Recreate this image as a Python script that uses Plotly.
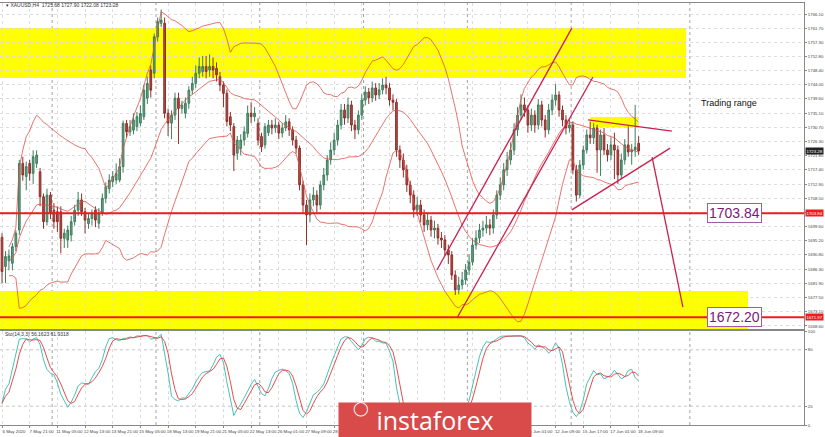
import plotly.graph_objects as go
import pandas as pd

# ---------------- data ----------------
opens = [
    1696.3, 1687.2, 1689.0, 1688.2, 1693.4, 1698.6, 1719.4, 1715.3, 1719.4, 1716.3,
    1719.4, 1716.8, 1709.0, 1701.2, 1709.5, 1704.8, 1704.3, 1704.3, 1696.0, 1695.5,
    1697.0, 1701.2, 1704.8, 1708.0, 1704.3, 1700.6, 1702.2, 1704.8, 1700.7, 1703.8,
    1708.5, 1711.5, 1713.7, 1714.2, 1714.2, 1718.4, 1731.9, 1729.3, 1729.8, 1730.9,
    1732.0, 1734.0, 1739.8, 1748.6, 1747.6, 1759.0, 1763.2, 1763.2, 1735.1, 1732.0,
    1734.5, 1739.8, 1736.6, 1735.1, 1738.2, 1742.3, 1744.4, 1747.6, 1748.1, 1749.7,
    1748.6, 1749.7, 1749.1, 1746.5, 1743.9, 1741.3, 1734.0, 1730.9, 1722.6, 1724.1,
    1726.7, 1728.8, 1735.1, 1734.0, 1731.9, 1727.8, 1725.2, 1729.0,
    1731.4, 1730.5, 1731.4, 1728.9, 1730.5, 1732.4, 1729.9, 1726.7, 1724.2, 1712.7,
    1706.4, 1703.3, 1708.0, 1709.5, 1706.4, 1712.7, 1715.8, 1720.5, 1723.6, 1726.7,
    1731.4, 1736.1, 1733.6, 1737.7, 1731.4, 1729.9, 1734.5, 1739.2, 1741.7, 1739.9,
    1743.0, 1740.8, 1742.4, 1743.9, 1743.0, 1739.2, 1738.5, 1723.6, 1720.5, 1717.4,
    1712.7, 1709.5, 1704.9, 1706.4, 1703.3, 1700.2, 1701.7, 1698.6, 1699.2, 1696.1,
    1695.5, 1692.4, 1690.8, 1684.5, 1679.9, 1681.4, 1683.0, 1686.1, 1688.6, 1693.9,
    1696.1, 1698.6, 1699.2, 1700.2, 1699.2, 1703.3, 1709.5, 1712.7, 1717.4, 1720.5,
    1723.6, 1729.9, 1734.5, 1737.7, 1736.1, 1731.4, 1734.5, 1731.4, 1737.7, 1733.0,
    1729.9, 1736.1, 1739.2, 1740.8, 1736.1, 1733.0, 1730.5, 1731.4, 1717.4, 1709.5,
    1718.9, 1723.6, 1728.3, 1727.4, 1730.5, 1723.6, 1728.3, 1723.6, 1722.1, 1725.2,
    1723.6, 1715.8, 1720.5, 1725.2, 1723.0, 1723.6, 1725.7,
]
highs = [
    1697.6, 1692.0, 1692.5, 1694.5, 1698.5, 1720.5, 1721.5, 1720.0, 1720.5, 1723.5,
    1723.5, 1718.0, 1710.0, 1711.5, 1710.5, 1707.0, 1706.0, 1706.0, 1699.0, 1700.0,
    1703.0, 1706.5, 1710.5, 1710.0, 1705.5, 1704.0, 1705.0, 1706.0, 1705.5, 1710.0,
    1713.5, 1716.0, 1717.0, 1719.4, 1721.0, 1732.8, 1733.0, 1733.0, 1735.0, 1735.5,
    1737.5, 1744.0, 1746.5, 1750.0, 1760.0, 1765.0, 1767.5, 1765.0, 1736.5, 1736.0,
    1741.5, 1741.5, 1739.0, 1740.0, 1743.5, 1746.5, 1750.0, 1752.5, 1753.0, 1753.0,
    1753.5, 1752.5, 1751.0, 1748.0, 1745.0, 1742.5, 1735.5, 1732.0, 1728.0, 1728.5,
    1731.0, 1737.5, 1738.5, 1737.0, 1733.5, 1729.0, 1732.0, 1733.0,
    1733.0, 1733.5, 1732.5, 1732.0, 1734.5, 1733.5, 1731.0, 1728.0, 1725.0, 1714.0,
    1708.0, 1710.0, 1712.0, 1711.0, 1714.0, 1718.0, 1722.0, 1726.0, 1729.0, 1733.0,
    1738.0, 1738.0, 1740.0, 1739.0, 1733.0, 1736.0, 1741.0, 1743.5, 1743.0, 1745.0,
    1744.5, 1744.5, 1746.0, 1746.5, 1744.5, 1741.0, 1739.5, 1725.0, 1722.5, 1719.0,
    1714.0, 1711.0, 1709.0, 1708.0, 1705.0, 1704.0, 1703.0, 1701.5, 1700.5, 1698.0,
    1697.0, 1694.0, 1692.0, 1686.0, 1684.0, 1685.5, 1688.0, 1691.0, 1696.0, 1698.5,
    1700.5, 1701.5, 1703.0, 1702.0, 1705.0, 1711.0, 1715.0, 1719.5, 1723.0, 1726.0,
    1732.0, 1737.0, 1741.0, 1740.0, 1737.5, 1736.5, 1736.0, 1739.5, 1739.0, 1734.5,
    1738.0, 1741.0, 1744.2, 1742.0, 1737.5, 1734.5, 1733.5, 1732.5, 1719.0, 1720.5,
    1725.0, 1730.0, 1732.5, 1732.0, 1731.5, 1730.0, 1730.5, 1725.5, 1727.5, 1729.0,
    1725.0, 1722.5, 1727.0, 1731.0, 1725.5, 1737.7, 1727.9,
]
lows = [
    1682.0, 1682.0, 1686.0, 1686.0, 1692.0, 1697.0, 1714.0, 1711.0, 1714.0, 1713.0,
    1718.0, 1706.0, 1699.0, 1700.0, 1702.0, 1699.0, 1698.0, 1691.3, 1693.0, 1693.0,
    1695.0, 1700.0, 1703.0, 1703.0, 1697.5, 1699.0, 1700.0, 1699.5, 1699.0, 1703.0,
    1707.0, 1710.0, 1712.0, 1713.0, 1713.5, 1716.5, 1727.5, 1728.0, 1728.5, 1729.5,
    1731.0, 1733.0, 1738.0, 1740.0, 1746.0, 1757.5, 1762.0, 1733.5, 1728.0, 1727.0,
    1733.0, 1725.5, 1735.0, 1733.5, 1736.5, 1741.0, 1743.0, 1746.0, 1746.5, 1746.0,
    1746.5, 1746.0, 1745.0, 1742.0, 1737.0, 1731.0, 1729.5, 1717.0, 1720.5, 1722.0,
    1725.0, 1727.5, 1732.0, 1732.5, 1725.0, 1723.0, 1724.0, 1728.0,
    1728.5, 1729.0, 1727.0, 1727.5, 1729.5, 1728.0, 1725.0, 1722.5, 1711.0, 1704.0,
    1693.9, 1701.0, 1706.0, 1704.0, 1705.0, 1711.0, 1714.0, 1719.0, 1722.0, 1725.0,
    1730.0, 1731.5, 1732.0, 1729.5, 1727.0, 1728.5, 1733.0, 1737.5, 1738.0, 1738.5,
    1739.0, 1739.5, 1741.0, 1741.0, 1737.5, 1736.0, 1721.5, 1718.0, 1715.0, 1710.5,
    1707.0, 1702.5, 1703.0, 1701.0, 1698.0, 1698.5, 1696.5, 1696.0, 1694.0, 1693.0,
    1690.5, 1688.0, 1683.0, 1678.3, 1678.5, 1680.0, 1681.5, 1684.5, 1687.5, 1692.5,
    1694.5, 1696.5, 1697.5, 1697.0, 1697.5, 1702.0, 1708.0, 1711.0, 1715.5, 1719.0,
    1722.0, 1728.0, 1733.0, 1734.0, 1729.0, 1729.5, 1729.0, 1730.0, 1731.0, 1727.5,
    1728.5, 1734.5, 1737.5, 1734.0, 1731.0, 1728.5, 1729.0, 1716.0, 1707.5, 1708.5,
    1717.5, 1722.5, 1725.5, 1725.5, 1716.5, 1715.5, 1722.0, 1720.0, 1720.5, 1714.5,
    1713.0, 1714.5, 1719.0, 1721.5, 1719.0, 1721.5, 1722.1,
]
closes = [
    1685.6, 1690.3, 1690.5, 1693.4, 1697.6, 1719.4, 1715.8, 1718.4, 1716.3, 1721.5,
    1722.0, 1709.0, 1701.2, 1709.5, 1703.8, 1701.2, 1701.2, 1696.0, 1697.6, 1698.6,
    1701.2, 1704.8, 1708.0, 1704.3, 1701.7, 1702.2, 1703.8, 1701.7, 1703.8, 1708.5,
    1712.1, 1714.2, 1715.3, 1716.3, 1718.4, 1731.9, 1729.3, 1730.9, 1733.0, 1734.0,
    1735.0, 1742.3, 1744.4, 1742.3, 1759.0, 1763.7, 1764.2, 1735.1, 1732.0, 1734.5,
    1739.8, 1736.6, 1737.6, 1738.2, 1742.3, 1744.4, 1747.6, 1749.7, 1749.7, 1748.1,
    1749.7, 1748.6, 1747.1, 1743.9, 1741.3, 1732.5, 1731.4, 1722.0, 1726.7, 1726.7,
    1729.3, 1735.1, 1734.0, 1735.1, 1726.7, 1724.6, 1730.9, 1731.4,
    1730.5, 1731.4, 1728.9, 1730.5, 1732.4, 1729.9, 1726.7, 1724.2, 1712.7, 1706.4,
    1703.3, 1708.0, 1709.5, 1706.4, 1712.7, 1715.8, 1720.5, 1723.6, 1726.7, 1731.4,
    1736.1, 1733.6, 1737.7, 1731.4, 1729.9, 1734.5, 1739.2, 1741.7, 1739.9, 1743.0,
    1740.8, 1742.4, 1743.9, 1743.0, 1739.2, 1738.5, 1723.6, 1720.5, 1717.4, 1712.7,
    1709.5, 1704.9, 1706.4, 1703.3, 1700.2, 1701.7, 1698.6, 1699.2, 1696.1, 1695.5,
    1692.4, 1690.8, 1684.5, 1679.9, 1681.4, 1683.0, 1686.1, 1688.6, 1693.9, 1696.1,
    1698.6, 1699.2, 1700.2, 1699.2, 1703.3, 1709.5, 1712.7, 1717.4, 1720.5, 1723.6,
    1729.9, 1734.5, 1737.7, 1736.1, 1731.4, 1734.5, 1731.4, 1737.7, 1733.0, 1729.9,
    1736.1, 1739.2, 1740.8, 1736.1, 1733.0, 1730.5, 1731.4, 1717.4, 1709.5, 1718.9,
    1723.6, 1728.3, 1727.4, 1730.5, 1723.6, 1728.3, 1723.6, 1722.1, 1725.2, 1723.6,
    1715.8, 1720.5, 1725.2, 1723.0, 1723.6, 1724.5, 1723.3,
]

x_tick_labels = [
    "6 May 2020", "7 May 21:00", "11 May 05:00", "12 May 13:00", "13 May 21:00",
    "15 May 05:00", "18 May 13:00", "19 May 21:00", "21 May 05:00", "22 May 13:00",
    "26 May 01:00", "27 May 09:00", "28 May 17:00", "1 Jun 01:00", "2 Jun 09:00",
    "3 Jun 17:00", "5 Jun 01:00", "8 Jun 09:00", "9 Jun 17:00", "11 Jun 01:00",
    "12 Jun 09:00", "15 Jun 17:00", "17 Jun 01:00", "18 Jun 09:00",
]
price_ticks = [1766.10, 1761.70, 1757.30, 1752.80, 1748.40, 1744.00, 1739.60, 1735.10,
               1730.70, 1726.30, 1721.80, 1717.40, 1712.90, 1708.50, 1704.10, 1699.60,
               1695.20, 1690.80, 1686.30, 1681.90, 1677.50, 1673.10, 1668.60]
stoch_ticks = [0, 20, 80, 100]

support_levels = [1703.84, 1671.3]
level_labels = ["1703.84", "1672.20"]
zone_upper = [1746.1, 1761.7]
zone_lower = [1667.0, 1679.5]
range_box = [170, 183.8, 1730.8, 1733.9]
# trend lines: (bar0, price0, bar1, price1)
trend_lines = [
    (125.7, 1686.1, 164.7, 1761.7),
    (131.5, 1671.1, 170.8, 1746.4),
    (169.4, 1733.0, 193.6, 1729.5),
    (164.7, 1704.9, 193.1, 1724.2),
    (187.9, 1721.4, 196.8, 1674.5),
]
separators = [14.5, 44.5, 74.5, 104.5, 134.5, 164.5, 198.8]

# ---------------- indicators ----------------
idx = list(range(len(closes)))
c = pd.Series(closes)
h = pd.Series(highs)
l = pd.Series(lows)
mid = c.rolling(20, min_periods=3).mean()
sd = c.rolling(20, min_periods=3).std(ddof=0)
bb_up = mid + 2 * sd
bb_lo = mid - 2 * sd
ll = l.rolling(14, min_periods=1).min()
hh = h.rolling(14, min_periods=1).max()
num = (c - ll).rolling(3, min_periods=1).sum()
den = (hh - ll).rolling(3, min_periods=1).sum()
k = 100 * num / den
d = k.rolling(3, min_periods=1).mean()

# ---------------- figure ----------------
W, H = 825, 437
XR = [-0.58, 231.8]
Y_MAIN = [1667.66, 1769.54]
dom_x = [0, 804 / W]
dom_main = [1 - 329 / H, 1 - 3 / H]
dom_sto = [1 - 425 / H, 1 - 331 / H]

fig = go.Figure()
fig.add_trace(go.Candlestick(
    x=idx, open=opens, high=highs, low=lows, close=closes,
    increasing=dict(line=dict(color="#3f7d5e", width=1), fillcolor="#64a283"),
    decreasing=dict(line=dict(color="#8e2f2a", width=1), fillcolor="#b54a44"),
    whiskerwidth=0, showlegend=False, xaxis="x", yaxis="y",
))
for s in (bb_up, mid, bb_lo):
    fig.add_trace(go.Scatter(x=idx, y=s, mode="lines", line=dict(color="#e0504a", width=0.8),
                             showlegend=False, xaxis="x", yaxis="y", hoverinfo="skip"))
fig.add_trace(go.Scatter(x=idx, y=k, mode="lines", line=dict(color="#36b8b0", width=0.9),
                         showlegend=False, xaxis="x2", yaxis="y2"))
fig.add_trace(go.Scatter(x=idx, y=d, mode="lines", line=dict(color="#e03a3a", width=0.9),
                         showlegend=False, xaxis="x2", yaxis="y2"))

shapes = []
shapes.append(dict(type="rect", xref="x", yref="y", x0=XR[0], x1=197.7,
                   y0=zone_upper[0], y1=zone_upper[1], fillcolor="#ffff00",
                   line=dict(width=0), layer="below"))
shapes.append(dict(type="rect", xref="x", yref="y", x0=XR[0], x1=215.6,
                   y0=zone_lower[0], y1=zone_lower[1], fillcolor="#ffff00",
                   line=dict(width=0), layer="below"))
shapes.append(dict(type="rect", xref="x", yref="y", x0=range_box[0], x1=range_box[1],
                   y0=range_box[2], y1=range_box[3], fillcolor="#ffff00",
                   line=dict(width=0), layer="below"))
for s in separators:
    shapes.append(dict(type="line", xref="x", yref="paper", x0=s, x1=s,
                       y0=dom_sto[0], y1=dom_main[1],
                       line=dict(color="#8a8a8a", width=0.8, dash="dot"), layer="below"))
for lv in support_levels:
    shapes.append(dict(type="line", xref="x domain", yref="y", x0=0, x1=1, y0=lv, y1=lv,
                       line=dict(color="#ee1c1c", width=2)))
for (a0, p0, a1, p1) in trend_lines:
    shapes.append(dict(type="line", xref="x", yref="y", x0=a0, y0=p0, x1=a1, y1=p1,
                       line=dict(color="#c8204f", width=1.3)))
for lv in (20, 80):
    shapes.append(dict(type="line", xref="x2 domain", yref="y2", x0=0, x1=1, y0=lv, y1=lv,
                       line=dict(color="#b8b8b8", width=0.8, dash="dot"), layer="below"))

annotations = []
annotations.append(dict(xref="paper", yref="paper", x=4 / W, y=1 - 5 / H, xanchor="left",
                        yanchor="middle", showarrow=False,
                        text="▾ XAUUSD,H4  1725.68 1727.90 1722.08 1723.28",
                        font=dict(size=5, color="#333")))
annotations.append(dict(xref="paper", yref="paper", x=3 / W, y=1 - 334 / H, xanchor="left",
                        yanchor="middle", showarrow=False,
                        text="Sto(14,3,3) 56.1623 61.9318",
                        font=dict(size=5, color="#333")))
annotations.append(dict(xref="x", yref="y", x=210, y=1738.3, showarrow=False,
                        text="Trading range", font=dict(size=9, color="#111",
                                                        family="Liberation Sans, Arial")))
for lv, txt in zip((1703.84, 1671.3), level_labels):
    annotations.append(dict(xref="x", yref="y", x=211.8, y=lv, showarrow=False, text=txt,
                            font=dict(size=14, color="#7a1877", family="Liberation Sans, Arial"),
                            bgcolor="white", bordercolor="#a25aa8", borderwidth=1, borderpad=1))
for lv, txt, col in ((1703.84, "1703.84", "#ee1c1c"), (1671.3, "1671.97", "#ee1c1c"),
                     (1723.28, "1723.28", "#222222")):
    annotations.append(dict(xref="paper", yref="y", x=805 / W, y=lv, xanchor="left",
                            yanchor="middle", showarrow=False, text=txt,
                            font=dict(size=4.3, color="white"), bgcolor=col, borderpad=0.5))
# watermark banner
annotations.append(dict(xref="paper", yref="paper", x=338 / W, y=1 - 402 / H, xanchor="left",
                        yanchor="top", showarrow=False, text="instaforex", width=192, height=38,
                        align="center", valign="top", bgcolor="#d94a4a", borderpad=0,
                        font=dict(size=25, color="white", family="Open Sans, Lato, sans-serif")))
annotations.append(dict(xref="paper", yref="paper", x=361 / W, y=1 - 419 / H, showarrow=False,
                        text="◯", font=dict(size=14, color="white")))

price_text = ["" if abs(v - 1704.10) < 0.01 else f"{v:.2f}" for v in price_ticks]

fig.update_layout(
    width=W, height=H, margin=dict(l=0, r=0, t=0, b=0, autoexpand=False),
    paper_bgcolor="white", plot_bgcolor="white",
    shapes=shapes, annotations=annotations, showlegend=False,
    font=dict(family="Liberation Sans, Arial, sans-serif", size=4.3, color="#444"),
    xaxis=dict(domain=dom_x, anchor="y", range=XR, showticklabels=False,
               tickvals=list(range(0, 185, 8)), showgrid=True, gridcolor="#dddddd",
               griddash="dot", gridwidth=0.6, zeroline=False, rangeslider=dict(visible=False),
               showline=True, linecolor="#888", linewidth=1, mirror=True, ticks=""),
    yaxis=dict(domain=dom_main, anchor="x", side="right", range=Y_MAIN, tickvals=price_ticks,
               ticktext=price_text, ticks="outside", ticklen=2, ticklabelstandoff=0,
               tickcolor="#888", showgrid=True, gridcolor="#dddddd", griddash="dot",
               gridwidth=0.6, zeroline=False, showline=True, linecolor="#888", linewidth=1,
               mirror=True, tickfont=dict(size=4.3, color="#444")),
    xaxis2=dict(domain=dom_x, anchor="y2", range=XR, tickvals=list(range(0, 185, 8)),
                ticktext=x_tick_labels, tickangle=0, ticklabelshift=12, ticks="outside",
                ticklen=2, tickcolor="#888", showgrid=True, gridcolor="#dddddd", griddash="dot",
                gridwidth=0.6, zeroline=False, showline=True, linecolor="#888", linewidth=1,
                mirror=True, tickfont=dict(size=4.4, color="#444")),
    yaxis2=dict(domain=dom_sto, anchor="x2", side="right", range=[0, 100], tickvals=stoch_ticks,
                ticks="outside", ticklen=2, ticklabelstandoff=0, tickcolor="#888",
                showgrid=False, zeroline=False,
                showline=True, linecolor="#888", linewidth=1, mirror=True,
                tickfont=dict(size=4.3, color="#444")),
)
fig.write_html("out.html", config={"displayModeBar": False},
               post_script="document.body.style.margin='0';document.body.style.overflow='hidden';")
